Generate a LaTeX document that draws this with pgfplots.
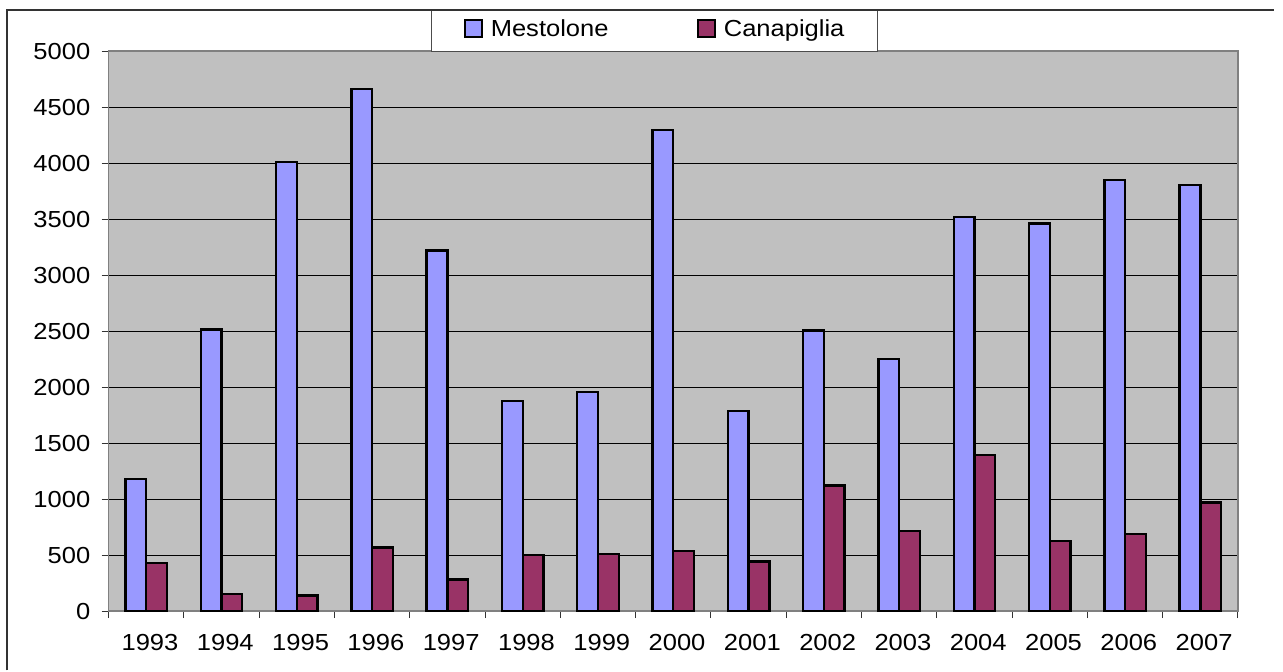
\documentclass[border=0pt]{standalone}
\usepackage{fontspec}
\setmainfont{Liberation Sans}
\usepackage{graphicx}
\usepackage{pgfplots}
\pgfplotsset{compat=1.18}
\definecolor{mest}{HTML}{9999FF}
\definecolor{cana}{HTML}{993366}
\definecolor{plotbg}{HTML}{C0C0C0}
\definecolor{frame}{HTML}{808080}
\begin{document}
\begin{tikzpicture}
\begin{axis}[
  width=1144pt, height=567pt, scale only axis,
  ybar=0pt, bar width=21pt,
  xmin=-0.5, xmax=14.5, ymin=0, ymax=5000,
  ytick={0,500,...,5000},
  xtick={-0.5,0.5,...,14.5},
  xticklabels={1993,1994,1995,1996,1997,1998,1999,2000,2001,2002,2003,2004,2005,2006,2007,{}},
  xticklabel style={xshift=38.13pt, yshift=-13pt},
  yticklabel style={xshift=-7pt},
  tick label style={font=\fontsize{23.5}{28}\selectfont, xscale=1.1},
  /pgf/number format/assume math mode=true,
  /pgf/number format/1000 sep={},
  tick align=outside, major tick length=7pt,
  xtick pos=bottom, ytick pos=left,
  tick style={black!80, line width=1pt},
  ymajorgrids, grid style={black, line width=0.9pt},
  axis background/.style={fill=plotbg},
  axis line style={frame, line width=1.8pt},
  legend columns=2,
  legend style={at={(0.2858,1)}, anchor=south west, draw=black!70, line width=0.8pt, fill=white,
    inner xsep=33pt, inner ysep=6.25pt,
    nodes={inner sep=0pt, text height=17.5pt, text depth=5pt, inner ysep=3pt, font=\fontsize{23.5}{28}\selectfont},
    /tikz/every odd column/.append style={column sep=8pt},
    /tikz/every even column/.append style={column sep=90pt}},
  legend image code/.code={\draw[#1, draw=black, line width=1.8pt] (0pt,-6pt) rectangle (17pt,11pt);},
]
\addplot[fill=mest, draw=black, line width=2.4pt] coordinates {
(0,1180) (1,2515) (2,4010) (3,4665) (4,3220) (5,1876) (6,1959) (7,4298)
(8,1785) (9,2505) (10,2254) (11,3518) (12,3462) (13,3853) (14,3806)};
\addplot[fill=cana, draw=black, line width=2.4pt] coordinates {
(0,432) (1,150) (2,140) (3,568) (4,283) (5,503) (6,510) (7,538)
(8,444) (9,1121) (10,715) (11,1392) (12,627) (13,686) (14,971)};
\legend{\scalebox{1.1}[1]{Mestolone},\scalebox{1.1}[1]{Canapiglia}}
\end{axis}
\draw[line width=1.6pt, black!80] (-103pt,-60pt) -- (-103pt,609pt) -- (1180pt,609pt);
\useasboundingbox (-110pt,-53pt) rectangle (1173pt,619pt);
\end{tikzpicture}
\end{document}
